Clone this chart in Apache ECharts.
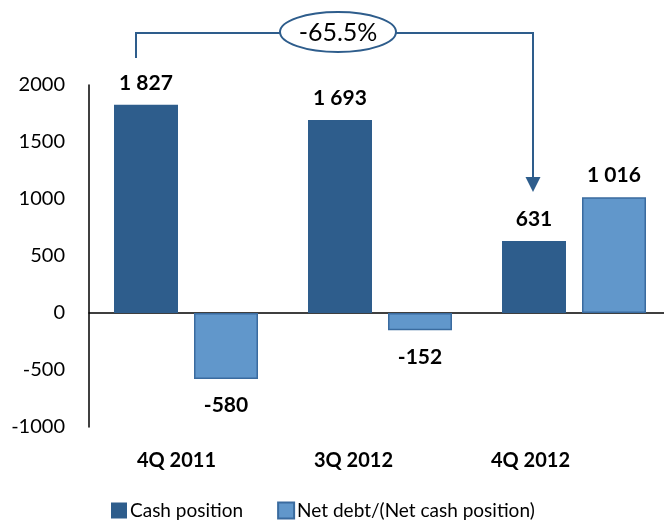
<!DOCTYPE html>
<html>
<head>
<meta charset="utf-8">
<script src="https://cdn.jsdelivr.net/npm/echarts@6/dist/echarts.min.js"></script>
<style>
  html, body { margin: 0; padding: 0; background: #fff; overflow: hidden; }
  /* plot runs slightly past the right edge in the original, so the canvas is a bit wider than the window */
  #chart { width: 690px; height: 528px; }
</style>
</head>
<body>
<div id="chart"></div>
<script>
const categories = ['4Q 2011', '3Q 2012', '4Q 2012'];
const cashPosition = [1827, 1693, 631];
const netDebt = [-580, -152, 1016];
const yTicks = { min: -1000, max: 2000, interval: 500 };
const changeLabel = '-65.5%';

const DARK = '#2E5D8C';
const LIGHT = '#6197CB';
const FONT = 'Lato, "Open Sans", sans-serif';

// positive values get label on top, negatives below the bar
function withLabels(values) {
  return values.map(v => ({
    value: v,
    label: { position: v >= 0 ? 'top' : 'bottom', distance: v >= 0 ? 11 : 16 }
  }));
}

function fmt(v) {
  let s = String(Math.abs(v)).replace(/\B(?=(\d{3})+(?!\d))/g, ' ');
  return (v < 0 ? '-' : '') + s;
}

const labelStyle = {
  show: true,
  fontFamily: FONT,
  fontSize: 21,
  fontWeight: 'bold',
  color: '#000',
  formatter: p => fmt(p.value)
};

const chart = echarts.init(document.getElementById('chart'));

chart.setOption({
  animation: false,
  backgroundColor: '#fff',
  grid: [
    { left: 89, top: 85, width: 582, height: 342 },
    { left: 88, top: 85, width: 531, height: 342 }
  ],
  xAxis: [
    {
      type: 'category',
      gridIndex: 0,
      data: categories,
      axisLine: { lineStyle: { color: '#000', width: 1.5 } },
      axisTick: { show: false },
      axisLabel: { show: false }
    },
    {
      type: 'category',
      gridIndex: 1,
      data: categories,
      position: 'bottom',
      axisLine: { show: false, onZero: false },
      axisTick: { show: false },
      axisLabel: { margin: 24, fontFamily: FONT, fontSize: 20, fontWeight: 'bold', color: '#000' }
    }
  ],
  yAxis: [
    {
      type: 'value',
      gridIndex: 0,
      min: yTicks.min,
      max: yTicks.max,
      interval: yTicks.interval,
      axisLine: { show: true, lineStyle: { color: '#000', width: 1.5 } },
      axisTick: { show: false },
      splitLine: { show: false },
      axisLabel: { margin: 24, fontFamily: FONT, fontSize: 20, color: '#000', formatter: v => String(v) }
    },
    { type: 'value', gridIndex: 1, min: 0, max: 1, show: false }
  ],
  legend: {
    left: 106,
    top: 496,
    icon: 'rect',
    itemWidth: 16,
    itemHeight: 16,
    itemGap: 34,
    textStyle: { fontFamily: FONT, fontSize: 19, color: '#000', padding: [0, 0, 0, -2] },
    data: ['Cash position', 'Net debt/(Net cash position)']
  },
  series: [
    {
      name: 'Cash position',
      type: 'bar',
      barWidth: 64,
      barGap: '25%',
      itemStyle: { color: DARK },
      label: labelStyle,
      data: withLabels(cashPosition)
    },
    {
      name: 'Net debt/(Net cash position)',
      type: 'bar',
      barWidth: 64,
      itemStyle: { color: LIGHT, borderColor: '#3A6B9F', borderWidth: 1.5 },
      label: labelStyle,
      data: withLabels(netDebt)
    }
  ],
  graphic: [
    {
      type: 'polyline',
      shape: { points: [[136, 58], [136, 33], [533, 33], [533, 179]] },
      style: { stroke: DARK, lineWidth: 2, fill: null }
    },
    {
      type: 'polygon',
      shape: { points: [[525.5, 177], [540.5, 177], [533, 192]] },
      style: { fill: DARK }
    },
    {
      type: 'ellipse',
      shape: { cx: 338, cy: 32, rx: 58, ry: 20 },
      style: { fill: '#fff', stroke: DARK, lineWidth: 2 }
    },
    {
      type: 'text',
      x: 338,
      y: 33,
      style: {
        text: changeLabel,
        fontFamily: FONT,
        fontSize: 25,
        fill: '#000',
        align: 'center',
        verticalAlign: 'middle'
      }
    }
  ]
});
</script>
</body>
</html>
